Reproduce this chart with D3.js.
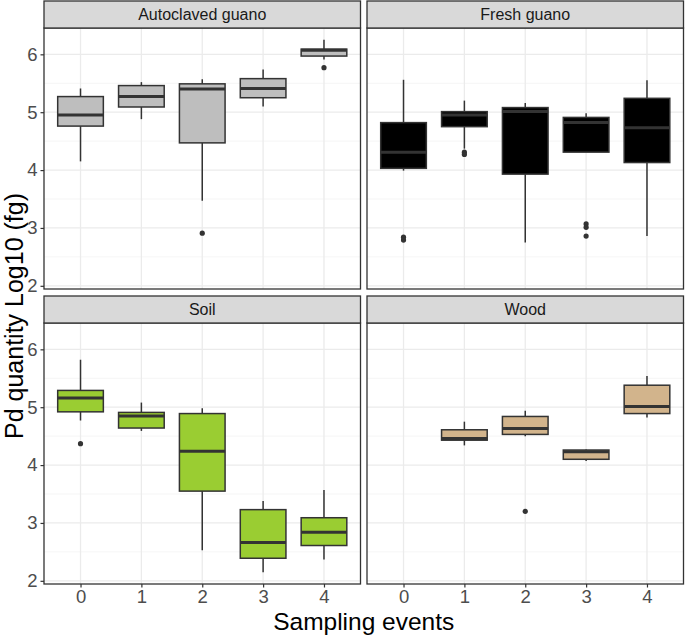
<!DOCTYPE html>
<html>
<head>
<meta charset="utf-8">
<script src="https://cdn.jsdelivr.net/npm/d3@7"></script>
<style>
  html, body { margin: 0; padding: 0; background: #fff; }
  svg { display: block; font-family: "Liberation Sans", Arial, sans-serif; }
</style>
</head>
<body>
<svg id="chart" width="685" height="638"></svg>
<script>
// ---- data ----
const events = ["0", "1", "2", "3", "4"];
const panelNames = ["Autoclaved guano", "Fresh guano", "Soil", "Wood"];
const panelFills = ["#BEBEBE", "#000000", "#9ACD32", "#D2B48C"];
const yTicks = [2, 3, 4, 5, 6];

// each box: [event, lowerWhisker, q1, median, q3, upperWhisker]
const autoclavedBoxes = [
  ["0", 4.15, 4.76, 4.95, 5.27, 5.41],
  ["1", 4.88, 5.09, 5.27, 5.46, 5.52],
  ["2", 3.47, 4.47, 5.40, 5.49, 5.57],
  ["3", 5.10, 5.25, 5.41, 5.58, 5.74],
  ["4", 5.91, 5.97, 6.07, 6.09, 6.25]
];
const autoclavedOutliers = [["2", 2.91], ["4", 5.77]];

const freshBoxes = [
  ["0", 3.99, 4.03, 4.31, 4.82, 5.56],
  ["1", 4.37, 4.75, 4.95, 5.01, 5.20],
  ["2", 2.75, 3.93, 5.01, 5.08, 5.16],
  ["3", 4.31, 4.31, 4.82, 4.91, 4.98],
  ["4", 2.86, 4.13, 4.73, 5.24, 5.55]
];
const freshOutliers = [["0", 2.84], ["0", 2.79], ["1", 4.31], ["1", 4.27], ["3", 3.07], ["3", 3.01], ["3", 2.86]];

const soilBoxes = [
  ["0", 4.77, 4.92, 5.16, 5.29, 5.82],
  ["1", 4.59, 4.64, 4.85, 4.91, 5.08],
  ["2", 2.53, 3.55, 4.24, 4.89, 4.98],
  ["3", 2.15, 2.39, 2.66, 3.23, 3.38],
  ["4", 2.37, 2.61, 2.84, 3.09, 3.57]
];
const soilOutliers = [["0", 4.37]];

const woodBoxes = [
  ["1", 4.34, 4.43, 4.46, 4.61, 4.75],
  ["2", 4.50, 4.53, 4.63, 4.84, 4.94],
  ["3", 4.07, 4.10, 4.23, 4.26, 4.27],
  ["4", 4.82, 4.89, 5.01, 5.38, 5.54]
];
const woodOutliers = [["2", 3.20]];

const allBoxes = [autoclavedBoxes, freshBoxes, soilBoxes, woodBoxes];
const allOutliers = [autoclavedOutliers, freshOutliers, soilOutliers, woodOutliers];

// ---- layout ----
const svg = d3.select("#chart");
const left = 44, panelW = 316.5, gapX = 6.5;
const top0 = 1, stripH = 27, panelH = 261, gapY = 7;
const ink = "#333333";
const font = "'Liberation Sans', Arial, sans-serif";

// shared y scale (fixed scales, 5% expansion)
const allVals = [];
allBoxes.forEach(bs => bs.forEach(b => allVals.push(b[1], b[5])));
allOutliers.forEach(os => os.forEach(o => allVals.push(o[1])));
const [ymin, ymax] = d3.extent(allVals);
const pad = (ymax - ymin) * 0.05;
const yDomain = [ymin - pad, ymax + pad];

const minorTicks = [2.5, 3.5, 4.5, 5.5];

panelNames.forEach((name, i) => {
  const col = i % 2, row = Math.floor(i / 2);
  const px = left + col * (panelW + gapX);
  const sy = top0 + row * (stripH + panelH + gapY);
  const py = sy + stripH;

  // discrete axis with 0.6 expansion on each side
  const xc = d3.scalePoint().domain(events).range([panelW * 0.6 / 5.2, panelW * 4.6 / 5.2]);
  const step = xc.step();
  const y = d3.scaleLinear().domain(yDomain).range([panelH, 0]);

  const g = svg.append("g").attr("transform", `translate(${px},${py})`);

  // panel background + grid
  g.append("rect").attr("width", panelW).attr("height", panelH).attr("fill", "#fff");
  g.selectAll(".minor").data(minorTicks).join("line")
    .attr("x1", 0).attr("x2", panelW)
    .attr("y1", d => y(d)).attr("y2", d => y(d))
    .attr("stroke", "#F2F2F2").attr("stroke-width", 0.8);
  g.selectAll(".major").data(yTicks).join("line")
    .attr("x1", 0).attr("x2", panelW)
    .attr("y1", d => y(d)).attr("y2", d => y(d))
    .attr("stroke", "#EBEBEB").attr("stroke-width", 1.3);
  g.selectAll(".vmajor").data(events).join("line")
    .attr("x1", d => xc(d)).attr("x2", d => xc(d))
    .attr("y1", 0).attr("y2", panelH)
    .attr("stroke", "#EBEBEB").attr("stroke-width", 1.3);

  const bw = step * 0.75;
  const fill = panelFills[i];

  const boxes = g.selectAll(".box").data(allBoxes[i]).join("g");
  boxes.append("line")
    .attr("x1", d => xc(d[0])).attr("x2", d => xc(d[0]))
    .attr("y1", d => y(d[5])).attr("y2", d => y(d[4]))
    .attr("stroke", ink).attr("stroke-width", 1.5);
  boxes.append("line")
    .attr("x1", d => xc(d[0])).attr("x2", d => xc(d[0]))
    .attr("y1", d => y(d[2])).attr("y2", d => y(d[1]))
    .attr("stroke", ink).attr("stroke-width", 1.5);
  boxes.append("rect")
    .attr("x", d => xc(d[0]) - bw / 2).attr("width", bw)
    .attr("y", d => y(d[4])).attr("height", d => y(d[2]) - y(d[4]))
    .attr("fill", fill).attr("stroke", ink).attr("stroke-width", 1.5);
  boxes.append("line")
    .attr("x1", d => xc(d[0]) - bw / 2).attr("x2", d => xc(d[0]) + bw / 2)
    .attr("y1", d => y(d[3])).attr("y2", d => y(d[3]))
    .attr("stroke", ink).attr("stroke-width", 3);

  g.selectAll(".out").data(allOutliers[i]).join("circle")
    .attr("cx", d => xc(d[0])).attr("cy", d => y(d[1])).attr("r", 2.6)
    .attr("fill", ink);

  g.append("rect").attr("width", panelW).attr("height", panelH)
    .attr("fill", "none").attr("stroke", ink).attr("stroke-width", 1.3);

  // strip
  svg.append("rect").attr("x", px).attr("y", sy).attr("width", panelW).attr("height", stripH)
    .attr("fill", "#D9D9D9").attr("stroke", ink).attr("stroke-width", 1.3);
  svg.append("text").attr("x", px + panelW / 2).attr("y", sy + stripH / 2 + 5.8)
    .attr("text-anchor", "middle").attr("font-size", 16).attr("fill", "#1A1A1A")
    .text(name);

  if (col === 0) {
    const ya = svg.append("g").attr("transform", `translate(${px},${py})`)
      .call(d3.axisLeft(y).tickValues(yTicks).tickSize(3.5).tickPadding(3).tickFormat(d3.format("d")));
    ya.select(".domain").remove();
    ya.selectAll(".tick line").attr("stroke", ink).attr("stroke-width", 1.2);
    ya.selectAll(".tick text").attr("font-size", 18.5).attr("fill", "#4D4D4D").attr("font-family", font);
  }
  if (row === 1) {
    const xa = svg.append("g").attr("transform", `translate(${px},${py + panelH})`)
      .call(d3.axisBottom(xc).tickSize(3.5).tickPadding(2.5));
    xa.select(".domain").remove();
    xa.selectAll(".tick line").attr("stroke", ink).attr("stroke-width", 1.2);
    xa.selectAll(".tick text").attr("font-size", 18.5).attr("fill", "#4D4D4D").attr("font-family", font);
  }
});

// axis titles
svg.append("text").attr("x", left + (2 * panelW + gapX) / 2).attr("y", 630)
  .attr("text-anchor", "middle").attr("font-size", 24.5).attr("fill", "#000")
  .text("Sampling events");
svg.append("text")
  .attr("transform", `translate(22.5,316) rotate(-90)`)
  .attr("text-anchor", "middle").attr("font-size", 25).attr("fill", "#000")
  .text("Pd quantity Log10 (fg)");
</script>
</body>
</html>
